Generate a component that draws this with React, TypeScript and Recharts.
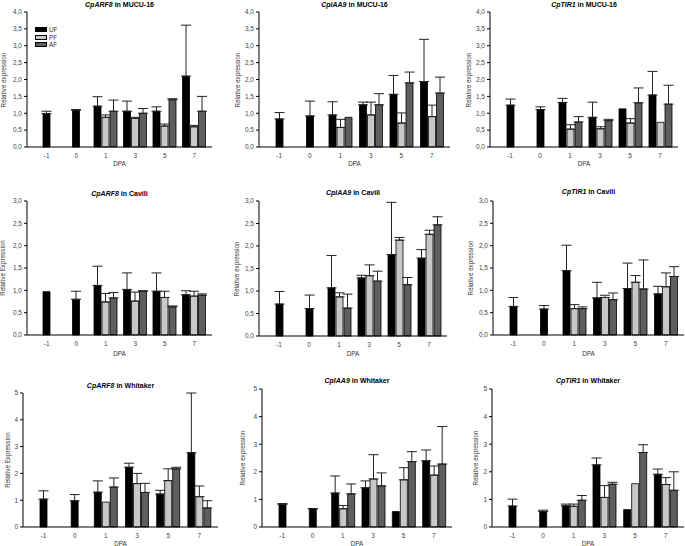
import { BarChart, Bar, XAxis, YAxis, ErrorBar } from "recharts";

const DPA = ["-1", "0", "1", "3", "5", "7"];

// CpARF8 in MUCU-16
const ARF8_MUCU_UF = [0.99, 1.09, 1.21, 1.06, 1.06, 2.1];
const ARF8_MUCU_PF = [null, null, 0.88, 0.85, 0.62, 0.6];
const ARF8_MUCU_AF = [null, null, 1.06, 1.0, 1.4, 1.06];
const ARF8_MUCU_UF_SE = [0.07, 0.02, 0.28, 0.3, 0.13, 1.51];
const ARF8_MUCU_PF_SE = [null, null, 0.07, 0.03, 0.06, 0.04];
const ARF8_MUCU_AF_SE = [null, null, 0.33, 0.14, 0.03, 0.44];

// CpIAA9 in MUCU-16
const IAA9_MUCU_UF = [0.83, 0.92, 0.95, 1.25, 1.56, 1.94];
const IAA9_MUCU_PF = [null, null, 0.58, 0.95, 0.71, 0.9];
const IAA9_MUCU_AF = [null, null, 0.88, 1.25, 1.9, 1.6];
const IAA9_MUCU_UF_SE = [0.19, 0.44, 0.39, 0.08, 0.56, 1.25];
const IAA9_MUCU_PF_SE = [null, null, 0.24, 0.38, 0.3, 0.34];
const IAA9_MUCU_AF_SE = [null, null, null, 0.33, 0.32, 0.47];

// CpTIR1 in MUCU-16
const TIR1_MUCU_UF = [1.24, 1.11, 1.32, 0.88, 1.13, 1.54];
const TIR1_MUCU_PF = [null, null, 0.53, 0.54, 0.71, 0.73];
const TIR1_MUCU_AF = [null, null, 0.74, 0.78, 1.31, 1.27];
const TIR1_MUCU_UF_SE = [0.18, 0.08, 0.12, 0.45, null, 0.7];
const TIR1_MUCU_PF_SE = [null, null, 0.13, 0.06, 0.13, null];
const TIR1_MUCU_AF_SE = [null, null, 0.16, 0.04, 0.44, 0.56];

// CpARF8 in Cavili
const ARF8_CAV_UF = [0.97, 0.8, 1.11, 1.02, 0.98, 0.9];
const ARF8_CAV_PF = [null, null, 0.74, 0.76, 0.84, 0.87];
const ARF8_CAV_AF = [null, null, 0.83, 0.98, 0.63, 0.89];
const ARF8_CAV_UF_SE = [null, 0.18, 0.43, 0.37, 0.41, 0.09];
const ARF8_CAV_PF_SE = [null, null, 0.19, 0.2, 0.14, 0.11];
const ARF8_CAV_AF_SE = [null, null, 0.12, 0.01, 0.02, 0.03];

// CpIAA9 in Cavili
const IAA9_CAV_UF = [0.71, 0.61, 1.07, 1.29, 1.81, 1.73];
const IAA9_CAV_PF = [null, null, 0.87, 1.34, 2.13, 2.26];
const IAA9_CAV_AF = [null, null, 0.62, 1.22, 1.14, 2.47];
const IAA9_CAV_UF_SE = [0.28, 0.3, 0.72, 0.06, 1.16, 0.19];
const IAA9_CAV_PF_SE = [null, null, 0.09, 0.24, 0.06, 0.09];
const IAA9_CAV_AF_SE = [null, null, 0.31, 0.22, 0.16, 0.18];

// CpTIR1 in Cavili
const TIR1_CAV_UF = [0.64, 0.58, 1.44, 0.83, 1.04, 0.92];
const TIR1_CAV_PF = [null, null, 0.59, 0.84, 1.18, 1.08];
const TIR1_CAV_AF = [null, null, 0.59, 0.79, 1.03, 1.31];
const TIR1_CAV_UF_SE = [0.2, 0.08, 0.57, 0.35, 0.57, 0.17];
const TIR1_CAV_PF_SE = [null, null, 0.09, 0.05, 0.15, 0.31];
const TIR1_CAV_AF_SE = [null, null, 0.04, 0.15, 0.65, 0.22];

// CpARF8 in Whitaker
const ARF8_WHI_UF = [1.04, 0.98, 1.3, 2.23, 1.23, 2.77];
const ARF8_WHI_PF = [null, null, 0.93, 1.62, 1.73, 1.13];
const ARF8_WHI_AF = [null, null, 1.49, 1.29, 2.17, 0.71];
const ARF8_WHI_UF_SE = [0.31, 0.23, 0.42, 0.15, 0.14, 2.23];
const ARF8_WHI_PF_SE = [null, null, null, 0.38, 0.44, 0.4];
const ARF8_WHI_AF_SE = [null, null, 0.34, 0.34, 0.06, 0.27];

// CpIAA9 in Whitaker
const IAA9_WHI_UF = [0.81, 0.66, 1.23, 1.42, 0.56, 2.4];
const IAA9_WHI_PF = [null, null, 0.66, 1.74, 1.71, 1.88];
const IAA9_WHI_AF = [null, null, 1.2, 1.49, 2.37, 2.28];
const IAA9_WHI_UF_SE = [0.04, 0.01, 0.62, 0.25, null, 0.39];
const IAA9_WHI_PF_SE = [null, null, 0.12, 0.88, 0.44, 0.33];
const IAA9_WHI_AF_SE = [null, null, 0.36, 0.47, 0.36, 1.36];

// CpTIR1 in Whitaker
const TIR1_WHI_UF = [0.76, 0.56, 0.77, 2.25, 0.63, 1.91];
const TIR1_WHI_PF = [null, null, 0.75, 1.07, 1.57, 1.54];
const TIR1_WHI_AF = [null, null, 0.97, 1.55, 2.7, 1.33];
const TIR1_WHI_UF_SE = [0.25, 0.05, 0.06, 0.25, null, 0.19];
const TIR1_WHI_PF_SE = [null, null, 0.08, 0.43, null, 0.25];
const TIR1_WHI_AF_SE = [null, null, 0.17, 0.07, 0.28, 0.67];

const TICKS_4 = [0, 0.5, 1, 1.5, 2, 2.5, 3, 3.5, 4];
const TICKS_3 = [0, 0.5, 1, 1.5, 2, 2.5, 3];
const TICKS_5 = [0, 1, 2, 3, 4, 5];

const FONT = "'Liberation Sans', Arial, sans-serif";
const UF_FILL = "#000000";
const PF_FILL = "#c8c8c8";
const AF_FILL = "#5e5e5e";

// chart box around each plot area
const ML = 4;
const YW = 26;
const MR = 2;
const MT = 7;
const XH = 14;
const MB = 4;

const PANELS = [
  { gene: "CpARF8", line: "MUCU-16", uf: ARF8_MUCU_UF, pf: ARF8_MUCU_PF, af: ARF8_MUCU_AF, ufSe: ARF8_MUCU_UF_SE, pfSe: ARF8_MUCU_PF_SE, afSe: ARF8_MUCU_AF_SE, ticks: TICKS_4, comma: true, yLabel: "Relative expression", plot: [27, 12, 212, 147], titleY: 4, labelX: 3, dpaY: 163, legend: true },
  { gene: "CpIAA9", line: "MUCU-16", uf: IAA9_MUCU_UF, pf: IAA9_MUCU_PF, af: IAA9_MUCU_AF, ufSe: IAA9_MUCU_UF_SE, pfSe: IAA9_MUCU_PF_SE, afSe: IAA9_MUCU_AF_SE, ticks: TICKS_4, comma: true, yLabel: "Relative expression", plot: [259, 12, 450, 147], titleY: 4, labelX: 237, dpaY: 163 },
  { gene: "CpTIR1", line: "MUCU-16", uf: TIR1_MUCU_UF, pf: TIR1_MUCU_PF, af: TIR1_MUCU_AF, ufSe: TIR1_MUCU_UF_SE, pfSe: TIR1_MUCU_PF_SE, afSe: TIR1_MUCU_AF_SE, ticks: TICKS_4, comma: true, yLabel: "Relative expression", plot: [490, 12, 678, 147], titleY: 4, labelX: 468, dpaY: 163 },
  { gene: "CpARF8", line: "Cavili", uf: ARF8_CAV_UF, pf: ARF8_CAV_PF, af: ARF8_CAV_AF, ufSe: ARF8_CAV_UF_SE, pfSe: ARF8_CAV_PF_SE, afSe: ARF8_CAV_AF_SE, ticks: TICKS_3, comma: true, yLabel: "Relative Expression", plot: [27, 201, 212, 335], titleY: 193, labelX: 2, dpaY: 353 },
  { gene: "CpIAA9", line: "Cavili", uf: IAA9_CAV_UF, pf: IAA9_CAV_PF, af: IAA9_CAV_AF, ufSe: IAA9_CAV_UF_SE, pfSe: IAA9_CAV_PF_SE, afSe: IAA9_CAV_AF_SE, ticks: TICKS_3, comma: true, yLabel: "Relative expression", plot: [259, 201, 447, 336], titleY: 192, labelX: 236, dpaY: 353 },
  { gene: "CpTIR1", line: "Cavili", uf: TIR1_CAV_UF, pf: TIR1_CAV_PF, af: TIR1_CAV_AF, ufSe: TIR1_CAV_UF_SE, pfSe: TIR1_CAV_PF_SE, afSe: TIR1_CAV_AF_SE, ticks: TICKS_3, comma: true, yLabel: "Relative expression", plot: [493, 201, 684, 335], titleY: 191, labelX: 470, dpaY: 353 },
  { gene: "CpARF8", line: "Whitaker", uf: ARF8_WHI_UF, pf: ARF8_WHI_PF, af: ARF8_WHI_AF, ufSe: ARF8_WHI_UF_SE, pfSe: ARF8_WHI_PF_SE, afSe: ARF8_WHI_AF_SE, ticks: TICKS_5, comma: false, yLabel: "Relative Expression", plot: [23, 393, 218, 527], titleY: 385, labelX: 7, dpaY: 543 },
  { gene: "CpIAA9", line: "Whitaker", uf: IAA9_WHI_UF, pf: IAA9_WHI_PF, af: IAA9_WHI_AF, ufSe: IAA9_WHI_UF_SE, pfSe: IAA9_WHI_PF_SE, afSe: IAA9_WHI_AF_SE, ticks: TICKS_5, comma: false, yLabel: "Relative expression", plot: [262, 389, 452, 527], titleY: 380, labelX: 242, dpaY: 543 },
  { gene: "CpTIR1", line: "Whitaker", uf: TIR1_WHI_UF, pf: TIR1_WHI_PF, af: TIR1_WHI_AF, ufSe: TIR1_WHI_UF_SE, pfSe: TIR1_WHI_PF_SE, afSe: TIR1_WHI_AF_SE, ticks: TICKS_5, comma: false, yLabel: "Relative expression", plot: [492, 389, 684, 527], titleY: 380, labelX: 475, dpaY: 543 },
];

const se = (v) => (v == null ? null : [0, v]);

function Panel({ p }) {
  const [x0, y0, x1, y1] = p.plot;
  const width = x1 - x0 + ML + YW + MR;
  const height = y1 - y0 + MT + XH + MB;
  const yMax = p.ticks[p.ticks.length - 1];
  const cx = (x0 + x1) / 2;
  const cy = (y0 + y1) / 2;

  // -1 and 0 DPA only have UF, drawn centred on their own axis
  const data = DPA.map((d, i) => ({
    dpa: d,
    single: i < 2 ? p.uf[i] : null,
    singleSe: i < 2 ? se(p.ufSe[i]) : null,
    uf: i >= 2 ? p.uf[i] : null,
    ufSe: i >= 2 ? se(p.ufSe[i]) : null,
    pf: p.pf[i],
    pfSe: se(p.pfSe[i]),
    af: p.af[i],
    afSe: se(p.afSe[i]),
  }));

  const fmt = (v: number) => (p.comma ? v.toFixed(1).replace(".", ",") : String(v));
  const errProps = { width: 5, stroke: "#222", strokeWidth: 1 };

  return (
    <>
      <div
        style={{
          position: "absolute",
          left: cx,
          top: p.titleY,
          transform: "translate(-50%, -50%)",
          fontSize: 7,
          fontWeight: "bold",
          whiteSpace: "nowrap",
          color: "#000",
        }}
      >
        <i>{p.gene}</i> in {p.line}
      </div>
      <div
        style={{
          position: "absolute",
          left: p.labelX,
          top: cy,
          transform: "translate(-50%, -50%) rotate(-90deg)",
          fontSize: 6.3,
          whiteSpace: "nowrap",
          color: "#333",
        }}
      >
        {p.yLabel}
      </div>
      <div
        style={{
          position: "absolute",
          left: cx,
          top: p.dpaY,
          transform: "translate(-50%, -50%)",
          fontSize: 6.3,
          color: "#333",
        }}
      >
        DPA
      </div>
      <div style={{ position: "absolute", left: x0 - ML - YW, top: y0 - MT }}>
        <BarChart
          width={width}
          height={height}
          data={data}
          margin={{ top: MT, right: MR, bottom: MB, left: ML }}
          barGap={1}
        >
          <XAxis
            xAxisId="g"
            dataKey="dpa"
            height={XH}
            interval={0}
            tickLine={false}
            tickSize={4}
            tickMargin={2}
            padding={{ left: 5, right: 3 }}
            axisLine={{ stroke: "#000" }}
            tick={{ fontSize: 6.5, fill: "#444", fontFamily: FONT }}
          />
          <XAxis
            xAxisId="s"
            dataKey="dpa"
            orientation="top"
            height={0}
            tick={false}
            tickLine={false}
            padding={{ left: 5, right: 3 }}
            axisLine={{ stroke: "#8a8a8a" }}
          />
          <YAxis
            yAxisId="l"
            width={YW}
            domain={[0, yMax]}
            ticks={p.ticks}
            interval={0}
            tickSize={3}
            tickMargin={2}
            tickFormatter={fmt}
            axisLine={{ stroke: "#000" }}
            tickLine={{ stroke: "#000" }}
            tick={{ fontSize: 6.5, fill: "#444", fontFamily: FONT }}
          />
          <YAxis
            yAxisId="r"
            orientation="right"
            width={0}
            domain={[0, yMax]}
            tick={false}
            tickLine={false}
            axisLine={{ stroke: "#8a8a8a" }}
          />
          <Bar xAxisId="s" yAxisId="l" dataKey="single" barSize={7} fill={UF_FILL} stroke="#000" strokeWidth={0.8} isAnimationActive={false}>
            <ErrorBar dataKey="singleSe" {...errProps} />
          </Bar>
          <Bar xAxisId="g" yAxisId="l" dataKey="uf" barSize={7} fill={UF_FILL} stroke="#000" strokeWidth={0.8} isAnimationActive={false}>
            <ErrorBar dataKey="ufSe" {...errProps} />
          </Bar>
          <Bar xAxisId="g" yAxisId="l" dataKey="pf" barSize={7} fill={PF_FILL} stroke="#000" strokeWidth={0.8} isAnimationActive={false}>
            <ErrorBar dataKey="pfSe" {...errProps} />
          </Bar>
          <Bar xAxisId="g" yAxisId="l" dataKey="af" barSize={7} fill={AF_FILL} stroke="#000" strokeWidth={0.8} isAnimationActive={false}>
            <ErrorBar dataKey="afSe" {...errProps} />
          </Bar>
        </BarChart>
      </div>
      {p.legend && (
        <div style={{ position: "absolute", left: x0 + 8, top: y0 + 14 }}>
          {[
            ["UF", UF_FILL],
            ["PF", PF_FILL],
            ["AF", AF_FILL],
          ].map(([name, fill]) => (
            <div key={name} style={{ display: "flex", alignItems: "center", height: 7.5 }}>
              <span style={{ width: 10, height: 3, background: fill, border: "0.8px solid #000", marginRight: 2 }} />
              <span style={{ fontSize: 6.3, color: "#333" }}>{name}</span>
            </div>
          ))}
        </div>
      )}
    </>
  );
}

export default function App() {
  return (
    <div
      style={{
        position: "absolute",
        left: 0,
        top: 0,
        width: 685,
        height: 546,
        background: "#fff",
        fontFamily: FONT,
        overflow: "hidden",
      }}
    >
      {PANELS.map((p) => (
        <Panel key={p.gene + p.line} p={p} />
      ))}
    </div>
  );
}
